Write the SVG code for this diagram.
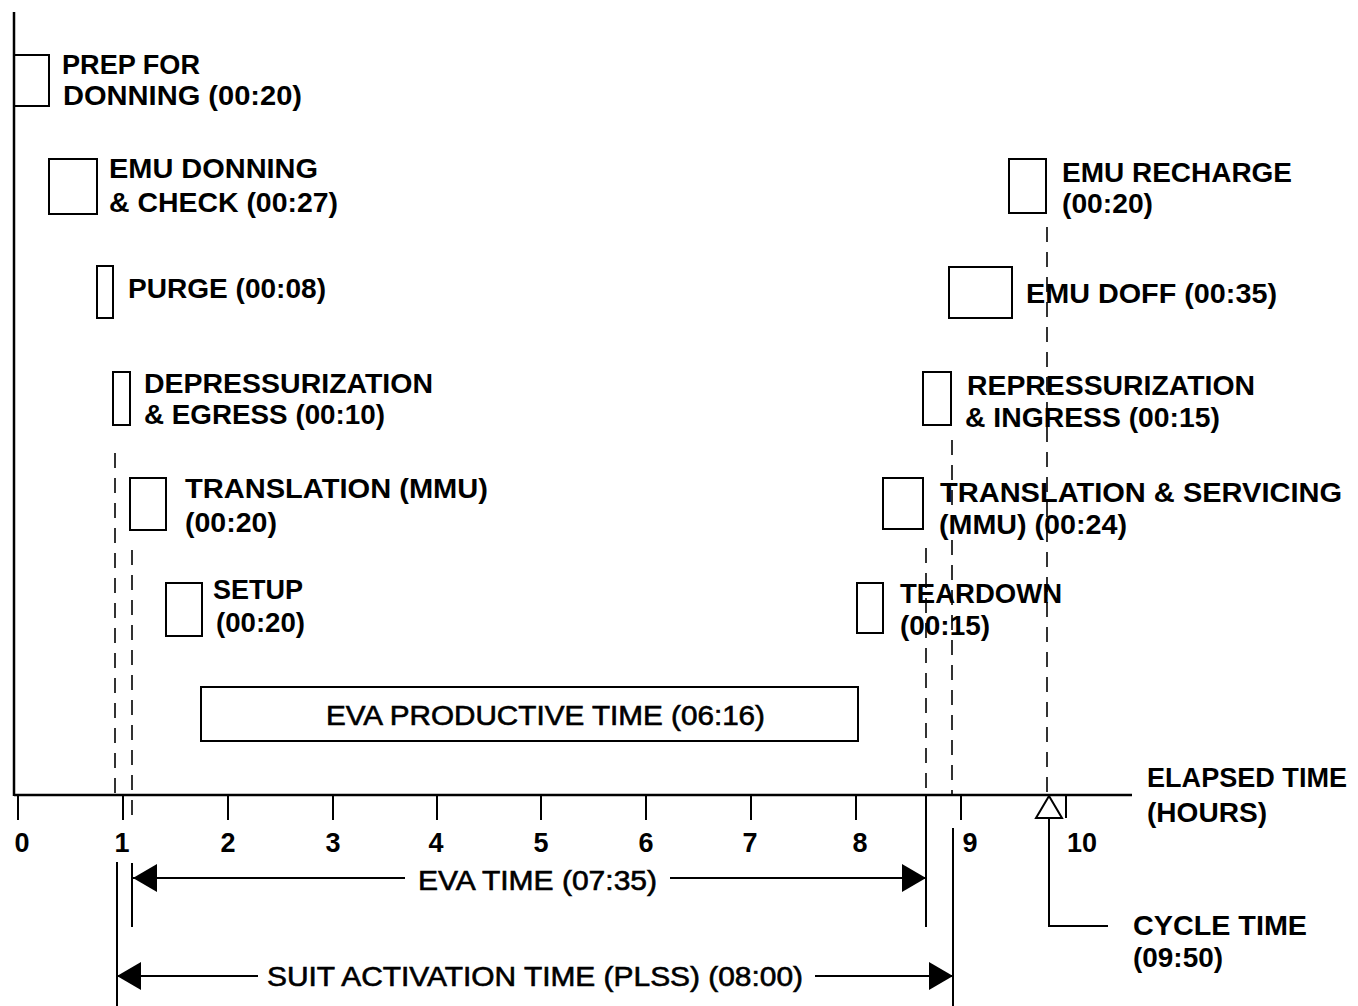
<svg xmlns="http://www.w3.org/2000/svg" width="1358" height="1006" viewBox="0 0 1358 1006">
<style>
.bg{fill:#fff}
.box{fill:none;stroke:#000;stroke-width:2}
.ln{stroke:#000;stroke-width:2;fill:none}
.ax{stroke:#000;stroke-width:2.5;fill:none}
.dash{stroke:#000;stroke-width:1.6;fill:none;stroke-dasharray:15 10}
.lb{font-family:"Liberation Sans",Arial,sans-serif;font-weight:bold;font-size:27px;fill:#000}
.rg{font-family:"Liberation Sans",Arial,sans-serif;font-size:27px;fill:#000;stroke:#000;stroke-width:0.6}
.num{font-family:"Liberation Sans",Arial,sans-serif;font-weight:bold;font-size:27px;fill:#000;text-anchor:middle}
</style>
<defs>
<marker id="ah" viewBox="0 0 24 28" refX="24" refY="14" markerWidth="24" markerHeight="28" markerUnits="userSpaceOnUse" orient="auto-start-reverse">
<path d="M0,0 L24,14 L0,28 Z" fill="#000"/>
</marker>
</defs>
<rect class="bg" x="0" y="0" width="1358" height="1006"/>

<g id="axes">
<line class="ax" x1="14" y1="12" x2="14" y2="796"/>
<line class="ax" x1="14" y1="795" x2="1132" y2="795"/>
<g class="ln">
<line x1="18" y1="795" x2="18" y2="820"/>
<line x1="123" y1="795" x2="123" y2="820"/>
<line x1="228" y1="795" x2="228" y2="820"/>
<line x1="333" y1="795" x2="333" y2="820"/>
<line x1="437" y1="795" x2="437" y2="820"/>
<line x1="541" y1="795" x2="541" y2="820"/>
<line x1="646" y1="795" x2="646" y2="820"/>
<line x1="751" y1="795" x2="751" y2="820"/>
<line x1="856" y1="795" x2="856" y2="820"/>
<line x1="961" y1="795" x2="961" y2="820"/>
<line x1="1066" y1="795" x2="1066" y2="818"/>
</g>
<text class="num" x="22" y="852">0</text>
<text class="num" x="122" y="852">1</text>
<text class="num" x="228" y="852">2</text>
<text class="num" x="333" y="852">3</text>
<text class="num" x="436" y="852">4</text>
<text class="num" x="541" y="852">5</text>
<text class="num" x="646" y="852">6</text>
<text class="num" x="750" y="852">7</text>
<text class="num" x="860" y="852">8</text>
<text class="num" x="970" y="852">9</text>
<text class="num" x="1082" y="852">10</text>
<text class="lb" x="1147" y="787" textLength="200" lengthAdjust="spacingAndGlyphs">ELAPSED TIME</text>
<text class="lb" x="1147" y="822" textLength="120" lengthAdjust="spacingAndGlyphs">(HOURS)</text>
</g>

<g id="prep">
<rect class="box" x="14" y="55" width="35" height="51"/>
<text class="lb" x="62" y="74" textLength="138" lengthAdjust="spacingAndGlyphs">PREP FOR</text>
<text class="lb" x="63" y="105" textLength="239" lengthAdjust="spacingAndGlyphs">DONNING (00:20)</text>
</g>
<g id="donning">
<rect class="box" x="49" y="159" width="48" height="55"/>
<text class="lb" x="109" y="178" textLength="209" lengthAdjust="spacingAndGlyphs">EMU DONNING</text>
<text class="lb" x="109" y="212" textLength="229" lengthAdjust="spacingAndGlyphs">&amp; CHECK (00:27)</text>
</g>
<g id="purge">
<rect class="box" x="97" y="266" width="16" height="52"/>
<text class="lb" x="128" y="298" textLength="198" lengthAdjust="spacingAndGlyphs">PURGE (00:08)</text>
</g>
<g id="depress">
<rect class="box" x="113" y="372" width="17" height="53"/>
<text class="lb" x="144" y="393" textLength="289" lengthAdjust="spacingAndGlyphs">DEPRESSURIZATION</text>
<text class="lb" x="144" y="424" textLength="241" lengthAdjust="spacingAndGlyphs">&amp; EGRESS (00:10)</text>
</g>
<g id="translation">
<rect class="box" x="130" y="478" width="36" height="52"/>
<text class="lb" x="185" y="498" textLength="303" lengthAdjust="spacingAndGlyphs">TRANSLATION (MMU)</text>
<text class="lb" x="185" y="532" textLength="92" lengthAdjust="spacingAndGlyphs">(00:20)</text>
</g>
<g id="setup">
<rect class="box" x="166" y="583" width="36" height="53"/>
<text class="lb" x="213" y="599" textLength="90" lengthAdjust="spacingAndGlyphs">SETUP</text>
<text class="lb" x="216" y="632" textLength="89" lengthAdjust="spacingAndGlyphs">(00:20)</text>
</g>
<g id="productive">
<rect class="box" x="201" y="687" width="657" height="54"/>
<text class="rg" x="326" y="725" textLength="439" lengthAdjust="spacingAndGlyphs">EVA PRODUCTIVE TIME (06:16)</text>
</g>
<g id="teardown">
<rect class="box" x="857" y="583" width="26" height="50"/>
<text class="lb" x="900" y="603" textLength="162" lengthAdjust="spacingAndGlyphs">TEARDOWN</text>
<text class="lb" x="900" y="635" textLength="90" lengthAdjust="spacingAndGlyphs">(00:15)</text>
</g>
<g id="servicing">
<rect class="box" x="883" y="478" width="40" height="51"/>
<text class="lb" x="940" y="502" textLength="402" lengthAdjust="spacingAndGlyphs">TRANSLATION &amp; SERVICING</text>
<text class="lb" x="939" y="534" textLength="188" lengthAdjust="spacingAndGlyphs">(MMU) (00:24)</text>
</g>
<g id="repress">
<rect class="box" x="923" y="372" width="28" height="53"/>
<text class="lb" x="967" y="395" textLength="288" lengthAdjust="spacingAndGlyphs">REPRESSURIZATION</text>
<text class="lb" x="965" y="427" textLength="255" lengthAdjust="spacingAndGlyphs">&amp; INGRESS (00:15)</text>
</g>
<g id="doff">
<rect class="box" x="949" y="267" width="63" height="51"/>
<text class="lb" x="1026" y="303" textLength="251" lengthAdjust="spacingAndGlyphs">EMU DOFF (00:35)</text>
</g>
<g id="recharge">
<rect class="box" x="1009" y="159" width="37" height="54"/>
<text class="lb" x="1062" y="182" textLength="230" lengthAdjust="spacingAndGlyphs">EMU RECHARGE</text>
<text class="lb" x="1062" y="213" textLength="91" lengthAdjust="spacingAndGlyphs">(00:20)</text>
</g>

<g id="connectors">
<line class="dash" x1="115" y1="453" x2="115" y2="794"/>
<line class="dash" x1="132" y1="550" x2="132" y2="822"/>
<line class="dash" x1="926" y1="548" x2="926" y2="794"/>
<line class="dash" x1="952" y1="440" x2="952" y2="794"/>
<line class="dash" x1="1047" y1="227" x2="1047" y2="794"/>
<line class="ln" x1="117" y1="862" x2="117" y2="1006"/>
<line class="ln" x1="132" y1="863" x2="132" y2="927"/>
<line class="ln" x1="926" y1="796" x2="926" y2="927"/>
<line class="ln" x1="953" y1="828" x2="953" y2="1006"/>
<line class="ln" x1="405" y1="878" x2="133" y2="878" marker-end="url(#ah)"/>
<line class="ln" x1="670" y1="878" x2="926" y2="878" marker-end="url(#ah)"/>
<line class="ln" x1="258" y1="976" x2="117" y2="976" marker-end="url(#ah)"/>
<line class="ln" x1="815" y1="976" x2="953" y2="976" marker-end="url(#ah)"/>
<text class="rg" x="418" y="890" textLength="239" lengthAdjust="spacingAndGlyphs">EVA TIME (07:35)</text>
<text class="rg" x="267" y="986" textLength="536" lengthAdjust="spacingAndGlyphs">SUIT ACTIVATION TIME (PLSS) (08:00)</text>
<path class="ln" d="M1049,796 L1036,818 L1062,818 Z" fill="#fff"/>
<polyline class="ln" points="1049,818 1049,926 1108,926"/>
<text class="lb" x="1133" y="935" textLength="174" lengthAdjust="spacingAndGlyphs">CYCLE TIME</text>
<text class="lb" x="1133" y="967" textLength="90" lengthAdjust="spacingAndGlyphs">(09:50)</text>
</g>
</svg>
